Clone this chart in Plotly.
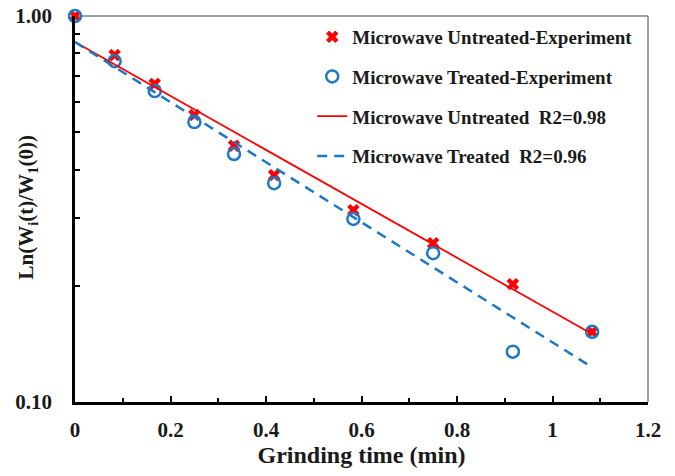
import plotly.graph_objects as go

# Data
time_min = [0, 0.083, 0.167, 0.25, 0.333, 0.417, 0.583, 0.75, 0.917, 1.083]
untreated_exp = [1.0, 0.792, 0.667, 0.554, 0.461, 0.387, 0.314, 0.258, 0.202, 0.152]
treated_exp = [1.0, 0.764, 0.639, 0.531, 0.439, 0.369, 0.298, 0.243, 0.135, 0.152]

fit_time = [0, 1.083]
untreated_fit = [0.856, 0.150]
treated_fit = [0.856, 0.123]

x_tickvals = [0, 0.2, 0.4, 0.6, 0.8, 1.0, 1.2]
x_ticktext = ["0", "0.2", "0.4", "0.6", "0.8", "1", "1.2"]
y_tickvals = [0.1, 1.0]
y_ticktext = ["0.10", "1.00"]
y_minor = [0.2, 0.3, 0.4, 0.5, 0.6, 0.7, 0.8, 0.9]

RED = "#FF0000"
BLUE = "#1F78C4"
FONT = "Liberation Serif, Times New Roman, serif"

fig = go.Figure()
fig.add_trace(go.Scatter(
    x=time_min, y=untreated_exp, mode="markers",
    name="<b>Microwave Untreated-Experiment</b>", legendgroup="a",
    marker=dict(symbol="x", size=11, color=RED, line=dict(width=0)),
    cliponaxis=False))
fig.add_trace(go.Scatter(
    x=time_min, y=treated_exp, mode="markers",
    name="<b>Microwave Treated-Experiment</b>", legendgroup="b",
    marker=dict(symbol="circle-open", size=12, color=BLUE, line=dict(width=2.5, color=BLUE)),
    cliponaxis=False))
fig.add_trace(go.Scatter(
    x=fit_time, y=untreated_fit, mode="lines",
    name="<b>Microwave Untreated  R2=0.98</b>", legendgroup="c",
    line=dict(color=RED, width=1.8)))
fig.add_trace(go.Scatter(
    x=fit_time, y=treated_fit, mode="lines",
    name="<b>Microwave Treated  R2=0.96</b>", legendgroup="d",
    line=dict(color=BLUE, width=2.5, dash="10px,7px")))

fig.update_layout(
    width=675, height=476,
    margin=dict(l=75, r=27, t=16, b=74),
    paper_bgcolor="white", plot_bgcolor="white",
    font=dict(family=FONT, color="#1a1a1a", size=21),
    showlegend=True,
    legend=dict(x=0.414, y=0.995, xanchor="left", yanchor="top",
                bgcolor="rgba(255,255,255,0)", tracegroupgap=12,
                font=dict(family=FONT, size=19, color="#1a1a1a"),
                itemwidth=30),
    xaxis=dict(
        range=[0, 1.2], tickvals=x_tickvals, ticktext=[f"<b>{t}</b>" for t in x_ticktext],
        ticks="inside", ticklen=6, tickwidth=2, tickcolor="black",
        showline=True, linecolor="black", linewidth=2.5, mirror=False,
        showgrid=False, zeroline=False, ticklabelstandoff=7, automargin=False,
        minor=dict(dtick=0.1, ticks="inside", ticklen=4, tickwidth=2, tickcolor="black"),
        title=dict(text="<b>Grinding time (min)</b>", font=dict(size=24), standoff=6),
        tickfont=dict(size=21)),
    yaxis=dict(
        type="log", range=[-1, 0], tickvals=y_tickvals, ticktext=[f"<b>{t}</b>" for t in y_ticktext],
        ticks="", showline=True, linecolor="black", linewidth=2.5, mirror=False,
        showgrid=False, zeroline=False, ticklabelstandoff=16, automargin=False,
        minor=dict(tickvals=y_minor, ticks="inside", ticklen=5, tickwidth=2, tickcolor="black"),
        tickfont=dict(size=21)),
)

fig.add_annotation(
    text="<b>Ln(W<sub>i</sub>(t)/W<sub>1</sub>(0))</b>", textangle=-90,
    xref="paper", yref="paper", x=-0.083, y=0.505, xanchor="center", yanchor="middle",
    showarrow=False, font=dict(family=FONT, size=21, color="#1a1a1a"))

fig.add_shape(type="line", xref="paper", yref="paper", x0=0, x1=1, y0=1, y1=1,
              line=dict(color="#808080", width=1.5), layer="below")
fig.add_shape(type="line", xref="paper", yref="paper", x0=1, x1=1, y0=0, y1=1,
              line=dict(color="#808080", width=1.5), layer="below")

fig.write_html("out.html")
